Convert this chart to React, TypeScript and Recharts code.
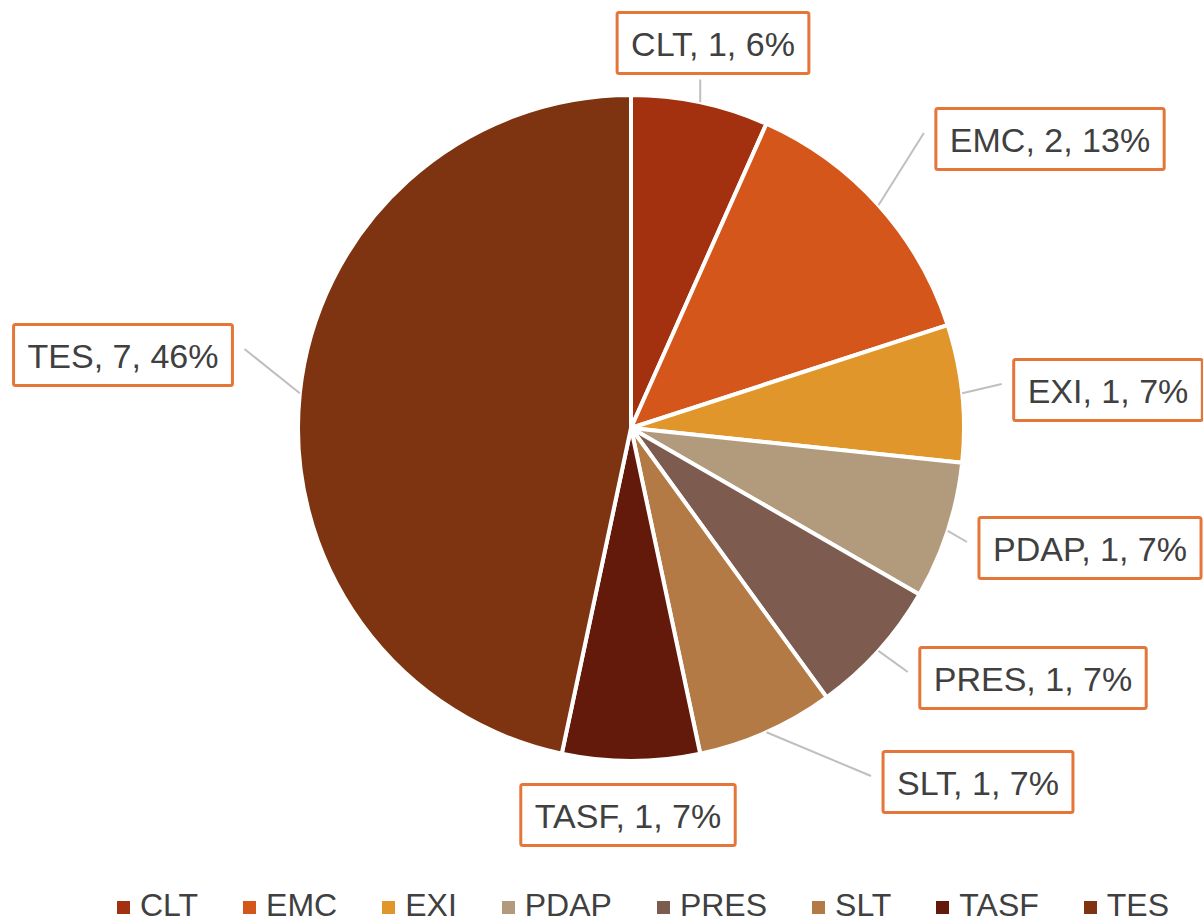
import React from 'react';
import { PieChart, Pie, Cell, Legend } from 'recharts';

const NAMES = ['CLT', 'EMC', 'EXI', 'PDAP', 'PRES', 'SLT', 'TASF', 'TES'];
const VALUES = [1, 2, 1, 1, 1, 1, 1, 7];
const PCT_LABELS = ['6%', '13%', '7%', '7%', '7%', '7%', '7%', '46%'];
const COLORS = ['#A3300F', '#D5561A', '#E0962A', '#B29B7C', '#7D5B4F', '#B37A45', '#631A0A', '#7E3410'];

// label box centre offsets from pie centre, and where its leader line attaches
const LABEL_LAYOUT = [
  { dx: 82, dy: -385, side: 'bottom' },
  { dx: 419, dy: -289, side: 'left' },
  { dx: 477, dy: -38, side: 'left' },
  { dx: 459, dy: 120, side: 'left' },
  { dx: 402, dy: 250, side: 'left' },
  { dx: 347, dy: 354, side: 'left' },
  { dx: -3, dy: 387, side: 'none' },
  { dx: -508, dy: -73, side: 'right' },
];

const data = NAMES.map((name, i) => ({ name, value: VALUES[i] }));

const FONT = '"Liberation Sans", Arial, sans-serif';
const TEXT_COLOR = '#404040';
const BOX_COLOR = '#E5763A';

let ctx: CanvasRenderingContext2D | null = null;
function measure(text: string, size: number) {
  if (!ctx) {
    const c = document.createElement('canvas');
    ctx = c.getContext('2d');
  }
  if (!ctx) return text.length * size * 0.5;
  ctx.font = `${size}px ${FONT}`;
  return ctx.measureText(text).width;
}

const renderLabel = (props: any) => {
  const { cx, cy, midAngle, outerRadius, index } = props;
  const L = LABEL_LAYOUT[index];
  const RAD = Math.PI / 180;
  const ex = cx + outerRadius * Math.cos(-midAngle * RAD);
  const ey = cy + outerRadius * Math.sin(-midAngle * RAD);
  const text = `${NAMES[index]}, ${VALUES[index]}, ${PCT_LABELS[index]}`;
  const fs = 34;
  const w = measure(text, fs) + 28;
  const h = 61;
  const bcx = cx + L.dx;
  const bcy = cy + L.dy;
  const bx = bcx - w / 2;
  const by = bcy - h / 2;
  let line: React.ReactNode = null;
  if (L.side === 'left') {
    line = <line x1={ex} y1={ey} x2={bx - 12} y2={bcy - 6} stroke="#BFBFBF" strokeWidth={2} />;
  } else if (L.side === 'right') {
    line = <line x1={ex} y1={ey} x2={bx + w + 12} y2={bcy - 6} stroke="#BFBFBF" strokeWidth={2} />;
  } else if (L.side === 'bottom') {
    line = <line x1={ex} y1={ey} x2={ex} y2={by + h + 6} stroke="#BFBFBF" strokeWidth={2} />;
  }
  return (
    <g key={`lbl-${index}`}>
      {line}
      <rect x={bx} y={by} width={w} height={h} fill="#FFFFFF" stroke={BOX_COLOR} strokeWidth={3} rx={2} />
      <text
        x={bcx}
        y={bcy + 1}
        textAnchor="middle"
        dominantBaseline="central"
        fontFamily={FONT}
        fontSize={fs}
        fill={TEXT_COLOR}
      >
        {text}
      </text>
    </g>
  );
};

const renderLegend = () => (
  <div
    style={{
      display: 'flex',
      alignItems: 'center',
      paddingLeft: 117,
      fontFamily: FONT,
      fontSize: 32,
      color: TEXT_COLOR,
      lineHeight: '40px',
    }}
  >
    {NAMES.map((n, i) => (
      <div key={n} style={{ display: 'flex', alignItems: 'center', marginRight: 45 }}>
        <span
          style={{ display: 'inline-block', width: 13, height: 13, background: COLORS[i], marginRight: 10, marginTop: 4 }}
        />
        <span>{n}</span>
      </div>
    ))}
  </div>
);

export default function App() {
  return (
    <div style={{ position: 'absolute', left: 0, top: 0, width: 1203, height: 923, background: '#FFFFFF' }}>
      <PieChart width={1203} height={923} margin={{ top: 0, right: 0, bottom: 0, left: 0 }}>
        <Pie
          data={data}
          dataKey="value"
          nameKey="name"
          cx={631}
          cy={428}
          outerRadius={333}
          startAngle={90}
          endAngle={-270}
          stroke="#FFFFFF"
          strokeWidth={4}
          label={renderLabel}
          labelLine={false}
          isAnimationActive={false}
        >
          {data.map((d, i) => (
            <Cell key={d.name} fill={COLORS[i]} />
          ))}
        </Pie>
        <Legend
          content={renderLegend}
          wrapperStyle={{ position: 'absolute', left: 0, top: 885, width: 1203 }}
        />
      </PieChart>
    </div>
  );
}
